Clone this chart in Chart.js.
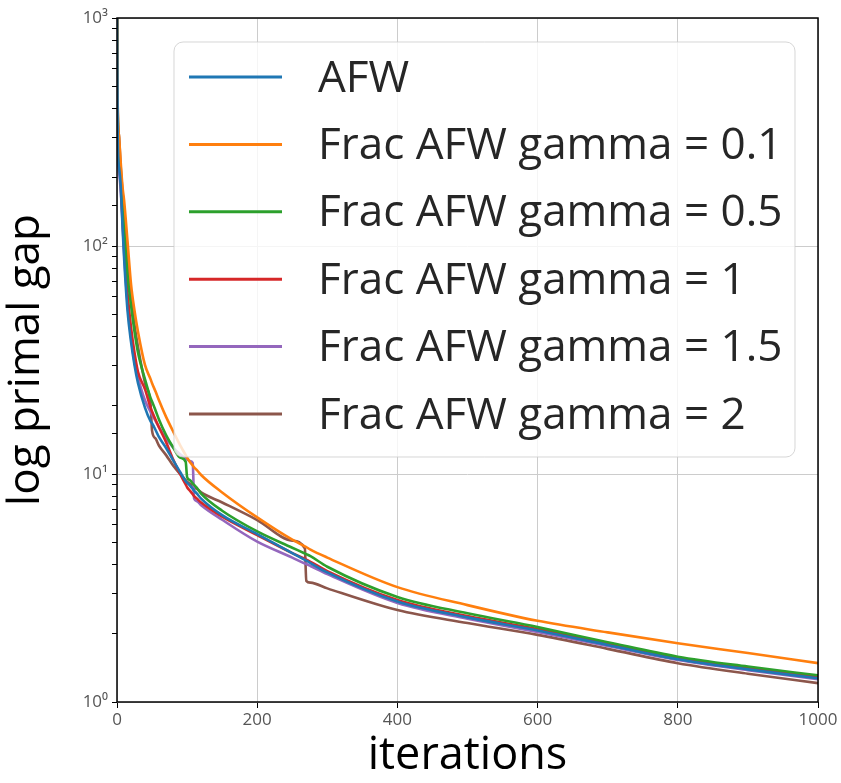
<!DOCTYPE html>
<html>
<head>
<meta charset="utf-8">
<script src="https://cdn.jsdelivr.net/npm/chart.js@4/dist/chart.umd.min.js"></script>
<style>
  html, body { margin: 0; padding: 0; background: #fff; }
  #wrap { width: 841px; height: 783px; }
</style>
</head>
<body>
<div id="wrap"><canvas id="gapChart" width="841" height="783"></canvas></div>
<script>
// iteration values shared by every series (close pairs like 48/50 carry the step drops)
const iterations = [0, 1, 3, 5, 8, 10, 15, 20, 25, 30, 40, 48, 50, 55, 60, 70, 80, 90, 98, 100, 104, 108, 110, 114, 120, 150, 200, 250, 268, 270, 276, 300, 400, 500, 600, 700, 800, 900, 1000];

const afw =     [1500, 300, 220, 190, 120, 90, 52, 38, 30, 25, 19.5, 17, 16.7, 15.6, 14.5, 13, 11.5, 10.2, 9.3, 9.15, 8.9, 8.6, 8.45, 8.2, 7.8, 6.6, 5.45, 4.5, 4.2, 4.17, 4.07, 3.7, 2.76, 2.35, 2.06, 1.78, 1.54, 1.39, 1.27];
const gamma01 = [1500, 420, 300, 240, 180, 160, 105, 68, 52, 42, 30, 26, 25, 23, 21, 17.8, 15.4, 13.4, 12.1, 11.8, 11.3, 10.9, 10.7, 10.4, 9.9, 8.3, 6.45, 5.15, 4.82, 4.78, 4.66, 4.3, 3.19, 2.66, 2.27, 2.02, 1.81, 1.64, 1.48];
const gamma05 = [1500, 380, 260, 210, 150, 120, 75, 55, 42, 34, 26, 21.5, 20.8, 19, 17.3, 14.8, 13.1, 11.8, 11.3, 9.7, 9.4, 9.1, 8.95, 8.7, 8.2, 6.9, 5.6, 4.75, 4.48, 4.45, 4.36, 3.92, 2.89, 2.45, 2.13, 1.83, 1.58, 1.43, 1.31];
const gamma1 =  [1500, 350, 250, 200, 130, 100, 62, 44, 34, 28, 23.5, 19.5, 18.8, 17.3, 16, 13.8, 11.6, 10.0, 9.0, 8.75, 8.45, 8.15, 8.0, 7.8, 7.5, 6.5, 5.4, 4.5, 4.24, 4.21, 4.12, 3.75, 2.8, 2.38, 2.09, 1.8, 1.56, 1.41, 1.29];
const gamma15 = [1500, 280, 210, 180, 125, 95, 56, 40, 31, 26.5, 21, 18.7, 18.2, 17.1, 16, 14.3, 13.1, 12.2, 11.7, 11.6, 11.4, 11.2, 7.8, 7.6, 7.3, 6.3, 5.05, 4.3, 4.05, 4.03, 3.95, 3.64, 2.72, 2.32, 2.03, 1.76, 1.53, 1.38, 1.26];
const gamma2 =  [1500, 410, 300, 230, 170, 140, 85, 60, 45, 36, 25, 20, 15.5, 14.3, 13.3, 12.1, 10.9, 10.0, 9.4, 9.25, 9.05, 8.85, 8.75, 8.6, 8.3, 7.5, 6.28, 5.1, 4.72, 3.4, 3.34, 3.15, 2.53, 2.22, 1.97, 1.71, 1.48, 1.33, 1.21];

const seriesNames = ['AFW', 'Frac AFW gamma = 0.1', 'Frac AFW gamma = 0.5', 'Frac AFW gamma = 1', 'Frac AFW gamma = 1.5', 'Frac AFW gamma = 2'];
const seriesValues = [afw, gamma01, gamma05, gamma1, gamma15, gamma2];
const seriesColors = ['#1f77b4', '#ff7f0e', '#2ca02c', '#d62728', '#9467bd', '#8c564b'];

const xTicks = [0, 200, 400, 600, 800, 1000];
const yTickLabels = { 1: '10\u2070', 10: '10\u00b9', 100: '10\u00b2', 1000: '10\u00b3' };

const FONT = '"Open Sans", "DejaVu Sans", sans-serif';

function isPow10(v) {
    const l = Math.log10(v);
    return Math.abs(l - Math.round(l)) < 1e-9;
}

// Box around the plot
const framePlugin = {
    id: 'frame',
    afterDatasetsDraw(chart) {
        const { ctx, chartArea: a } = chart;
        ctx.save();
        ctx.strokeStyle = '#000';
        ctx.lineWidth = 1.5;
        ctx.strokeRect(a.left, a.top, a.right - a.left, a.bottom - a.top);
        ctx.restore();
    }
};

// Legend drawn inside the plot area, over the lines, with a see-through white box
const legendPlugin = {
    id: 'insideLegend',
    afterDraw(chart) {
        const ctx = chart.ctx;
        const box = { x: 174, y: 42, w: 621, h: 415, r: 9 };
        ctx.save();
        ctx.beginPath();
        ctx.roundRect(box.x, box.y, box.w, box.h, box.r);
        ctx.fillStyle = 'rgba(255,255,255,0.8)';
        ctx.fill();
        ctx.strokeStyle = 'rgba(204,204,204,0.8)';
        ctx.lineWidth = 1;
        ctx.stroke();

        ctx.font = '44px ' + FONT;
        ctx.textBaseline = 'middle';
        ctx.fillStyle = '#262626';
        chart.data.datasets.forEach((ds, i) => {
            const y = 77 + i * 67.4;
            ctx.beginPath();
            ctx.moveTo(189, y);
            ctx.lineTo(282, y);
            ctx.strokeStyle = ds.borderColor;
            ctx.lineWidth = 3;
            ctx.stroke();
            ctx.fillText(ds.label, 318, y + 2);
        });
        ctx.restore();
    }
};

const datasets = seriesNames.map((name, i) => ({
    label: name,
    data: iterations.map((it, j) => ({ x: it, y: seriesValues[i][j] })),
    borderColor: seriesColors[i],
    backgroundColor: seriesColors[i],
    borderWidth: 2.6,
    pointRadius: 0,
    cubicInterpolationMode: 'monotone',
    fill: false
}));

new Chart(document.getElementById('gapChart').getContext('2d'), {
    type: 'line',
    data: { datasets: datasets },
    options: {
        responsive: false,
        animation: false,
        layout: { padding: { top: 18, right: 23, left: 0, bottom: 0 } },
        plugins: { legend: { display: false }, tooltip: { enabled: false } },
        scales: {
            x: {
                type: 'linear',
                min: 0,
                max: 1000,
                afterBuildTicks: scale => { scale.ticks = xTicks.map(v => ({ value: v })); },
                afterFit: scale => { scale.height = 81; },
                border: { display: false },
                grid: { color: '#cccccc', lineWidth: 1, tickColor: '#000', tickLength: 6 },
                ticks: { color: '#555', font: { family: FONT, size: 17 }, padding: 2, maxRotation: 0, callback: v => String(v) },
                title: { display: true, text: 'iterations', color: '#000', font: { family: FONT, size: 45 }, padding: { top: 0, bottom: 0 } }
            },
            y: {
                type: 'logarithmic',
                min: 1,
                max: 1000,
                afterFit: scale => { scale.width = 117; },
                border: { display: false },
                grid: {
                    color: c => (c.tick && isPow10(c.tick.value)) ? '#cccccc' : 'rgba(0,0,0,0)',
                    lineWidth: 1,
                    tickColor: '#000',
                    tickLength: 5
                },
                ticks: {
                    autoSkip: false,
                    color: '#555',
                    font: { family: FONT, size: 17 },
                    padding: 4,
                    callback: v => yTickLabels[v] || ''
                },
                title: { display: true, text: 'log primal gap', color: '#000', font: { family: FONT, size: 44 }, padding: { top: 0, bottom: 6 } }
            }
        }
    },
    plugins: [framePlugin, legendPlugin]
});
</script>
</body>
</html>
